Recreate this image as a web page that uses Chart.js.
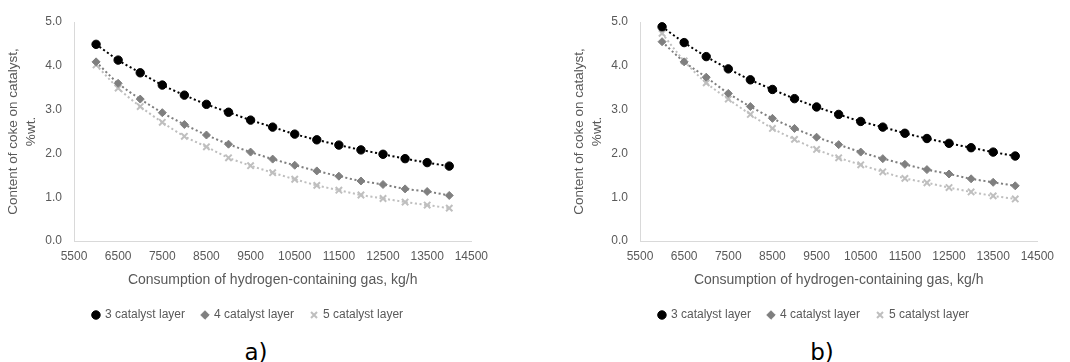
<!DOCTYPE html>
<html>
<head>
<meta charset="utf-8">
<script src="https://cdn.jsdelivr.net/npm/chart.js@4.4.0/dist/chart.umd.min.js"></script>
<style>
  body { margin: 0; background: #fff; width: 1070px; height: 362px; overflow: hidden; position: relative; }
  .panel { position: absolute; top: 0; width: 496px; height: 362px; }
  .panel canvas { position: absolute; left: 0; top: 0; }
  .caption { position: absolute; left: 8px; top: 340px; width: 496px; text-align: center;
             font: 23px "DejaVu Sans", sans-serif; line-height: 24px; color: #000; }
</style>
</head>
<body>
<div class="panel" style="left:0px"><canvas id="chartA" width="496" height="335"></canvas><div class="caption" id="capA"></div></div>
<div class="panel" style="left:566px"><canvas id="chartB" width="496" height="335"></canvas><div class="caption" id="capB"></div></div>
<script>
// x values, kg/h
var consumption = [6000, 6500, 7000, 7500, 8000, 8500, 9000, 9500, 10000,
                   10500, 11000, 11500, 12000, 12500, 13000, 13500, 14000];
var seriesNames = ['3 catalyst layer', '4 catalyst layer', '5 catalyst layer'];
var panelLabels = ['a)', 'b)'];

// chart a) coke content, %wt.
var cokeA3 = [4.49, 4.13, 3.84, 3.56, 3.33, 3.12, 2.94, 2.76, 2.60, 2.44, 2.31, 2.19, 2.08, 1.98, 1.88, 1.79, 1.71];
var cokeA4 = [4.09, 3.60, 3.24, 2.93, 2.66, 2.42, 2.21, 2.03, 1.87, 1.73, 1.60, 1.48, 1.37, 1.29, 1.19, 1.13, 1.04];
var cokeA5 = [4.02, 3.49, 3.07, 2.71, 2.39, 2.15, 1.90, 1.72, 1.56, 1.41, 1.27, 1.16, 1.05, 0.97, 0.89, 0.82, 0.75];

// chart b)
var cokeB3 = [4.89, 4.53, 4.21, 3.93, 3.68, 3.46, 3.25, 3.06, 2.89, 2.73, 2.60, 2.46, 2.34, 2.23, 2.13, 2.03, 1.94];
var cokeB4 = [4.55, 4.09, 3.74, 3.37, 3.07, 2.80, 2.57, 2.37, 2.20, 2.03, 1.88, 1.75, 1.63, 1.53, 1.42, 1.34, 1.26];
var cokeB5 = [4.74, 4.11, 3.61, 3.24, 2.89, 2.57, 2.32, 2.09, 1.90, 1.74, 1.58, 1.43, 1.33, 1.22, 1.12, 1.03, 0.96];

Chart.defaults.font.family = "'Liberation Sans', Arial, sans-serif";
Chart.defaults.color = '#595959';

function toPoints(values) {
    return consumption.map((x, i) => ({ x: x, y: values[i] }));
}

function makeChart(canvasId, s3, s4, s5) {
    var ctx = document.getElementById(canvasId).getContext('2d');
    return new Chart(ctx, {
        type: 'line',
        data: {
            datasets: [{
                label: seriesNames[0],
                data: toPoints(s3),
                borderColor: '#000000',
                backgroundColor: '#000000',
                borderWidth: 2,
                borderDash: [2, 2.5],
                tension: 0.3,
                pointStyle: 'circle',
                pointRadius: 4.2,
                pointBackgroundColor: '#000000',
                pointBorderColor: '#000000',
                pointBorderWidth: 1
            }, {
                label: seriesNames[1],
                data: toPoints(s4),
                borderColor: '#7f7f7f',
                backgroundColor: '#7f7f7f',
                borderWidth: 2,
                borderDash: [2, 2.5],
                tension: 0.3,
                pointStyle: 'rectRot',
                pointRadius: 4,
                pointBackgroundColor: '#7f7f7f',
                pointBorderColor: '#7f7f7f',
                pointBorderWidth: 1
            }, {
                label: seriesNames[2],
                data: toPoints(s5),
                borderColor: '#bfbfbf',
                backgroundColor: '#bfbfbf',
                borderWidth: 2,
                borderDash: [2, 2.5],
                tension: 0.3,
                pointStyle: 'crossRot',
                pointRadius: 4.5,
                pointBackgroundColor: '#bfbfbf',
                pointBorderColor: '#bfbfbf',
                pointBorderWidth: 2
            }]
        },
        options: {
            responsive: false,
            animation: false,
            layout: { padding: { left: 16, right: 16, top: 22, bottom: 4 } },
            plugins: {
                tooltip: { enabled: false },
                legend: {
                    position: 'bottom',
                    labels: {
                        usePointStyle: true,
                        boxWidth: 6,
                        boxHeight: 6,
                        padding: 17,
                        font: { size: 12 }
                    }
                }
            },
            scales: {
                x: {
                    type: 'linear',
                    min: 5500,
                    max: 14500,
                    grid: { display: false, drawTicks: false },
                    border: { display: true, color: '#d9d9d9', width: 1 },
                    ticks: {
                        stepSize: 1000,
                        padding: 8,
                        maxRotation: 0,
                        font: { size: 12 },
                        callback: v => String(v)
                    },
                    title: {
                        display: true,
                        text: 'Consumption of hydrogen-containing gas, kg/h',
                        font: { size: 14 },
                        padding: { top: 0, bottom: 3 }
                    },
                    afterFit: scale => { scale.height = 51; }
                },
                y: {
                    min: 0,
                    max: 5,
                    grid: { display: false, drawTicks: false },
                    border: { display: true, color: '#d9d9d9', width: 1 },
                    ticks: {
                        stepSize: 1,
                        padding: 12,
                        font: { size: 12 },
                        callback: v => v.toFixed(1)
                    },
                    title: {
                        display: true,
                        text: ['Content of coke on catalyst,', '%wt.'],
                        font: { size: 13.5, lineHeight: 1.35 },
                        padding: { top: -12, bottom: 0 }
                    },
                    afterFit: scale => { scale.width = 58; }
                }
            }
        }
    });
}

makeChart('chartA', cokeA3, cokeA4, cokeA5);
makeChart('chartB', cokeB3, cokeB4, cokeB5);
document.getElementById('capA').textContent = panelLabels[0];
document.getElementById('capB').textContent = panelLabels[1];
</script>
</body>
</html>
